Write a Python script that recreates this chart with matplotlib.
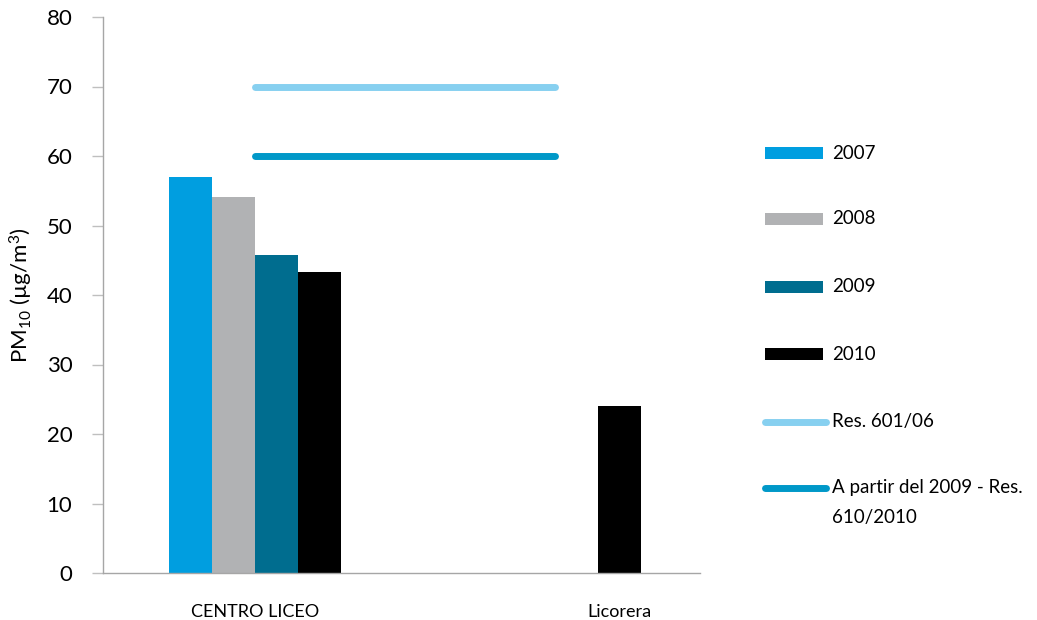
import matplotlib
matplotlib.use("Agg")
import matplotlib.pyplot as plt
from matplotlib.patches import Rectangle
from matplotlib.lines import Line2D
import numpy as np

plt.rcParams['font.family'] = ['Lato', 'DejaVu Sans']
plt.rcParams['mathtext.fontset'] = 'custom'
plt.rcParams['mathtext.rm'] = 'Lato'
plt.rcParams['mathtext.it'] = 'Lato:italic'

# ---- data ----
categories = ["CENTRO LICEO", "Licorera"]
years = ["2007", "2008", "2009", "2010"]
values_2007 = [57.0, None]
values_2008 = [54.1, None]
values_2009 = [45.8, None]
values_2010 = [43.3, 24.0]
series_values = [values_2007, values_2008, values_2009, values_2010]
bar_colors = ["#009EE0", "#B1B2B4", "#006D8F", "#000000"]

limit_labels = ["Res. 601/06", "A partir del 2009 - Res.\n610/2010"]
limit_values = [70, 60]
limit_colors = ["#87D0F0", "#0098C8"]

yticks = [0, 10, 20, 30, 40, 50, 60, 70, 80]

fig = plt.figure(figsize=(10.37, 6.2), dpi=100)
ax = fig.add_axes([103 / 1037, 47 / 620, (700 - 103) / 1037, (573 - 17) / 620])

group_width = 7
centers = np.array([group_width * (i + 0.5) for i in range(len(categories))])
offsets = [-1.5, -0.5, 0.5, 1.5]

for vals, off, col in zip(series_values, offsets, bar_colors):
    for c, v in zip(centers, vals):
        if v is not None:
            ax.bar(c + off, v, width=1.0, color=col, linewidth=0)

for v, col in zip(limit_values, limit_colors):
    ax.plot(centers, [v, v], color=col, lw=5, solid_capstyle='round')

ax.set_xlim(-0.04, 13.88)
ax.set_ylim(0, 80)
ax.set_yticks(yticks)
ax.tick_params(axis='y', direction='out', length=8, color='#BFBFBF',
               labelsize=16, pad=14, width=1)
# category labels: placed under the plotted bars of each group
label_pos = [centers[0], centers[1] + offsets[3]]
ax.set_xticks(label_pos)
ax.set_xticklabels(categories, fontsize=13)
ax.tick_params(axis='x', length=0, pad=22)

for s in ['top', 'right']:
    ax.spines[s].set_visible(False)
for s in ['left', 'bottom']:
    ax.spines[s].set_color('#A6A6A6')
    ax.spines[s].set_linewidth(1)

ax.set_ylabel(r'PM$_{10}$ (µg/m$^{3}$)', fontsize=16, labelpad=8)

# ---- legend (manual, at right) ----
W, H = 1037, 620
def fx(px):
    return px / W
def fy(py):
    return 1 - py / H

leg_y = [153, 219, 287, 354, 422, 488]
for i, (lab, col) in enumerate(zip(years, bar_colors)):
    y = leg_y[i]
    fig.add_artist(Rectangle((fx(765), fy(y + 6)), fx(823) - fx(765), 12 / H,
                             facecolor=col, edgecolor='none', transform=fig.transFigure))
    fig.text(fx(832), fy(y), lab, fontsize=13.5, va='center', ha='left')
for j, (lab, col) in enumerate(zip(limit_labels, limit_colors)):
    y = leg_y[4 + j]
    fig.add_artist(Line2D([fx(765), fx(826)], [fy(y), fy(y)], color=col, lw=5,
                          solid_capstyle='round', transform=fig.transFigure))
    lines = lab.split("\n")
    for k, ln in enumerate(lines):
        fig.text(fx(832), fy(y + k * 30), ln, fontsize=13.5, va='center', ha='left')

fig.savefig("out.png", dpi=100)
